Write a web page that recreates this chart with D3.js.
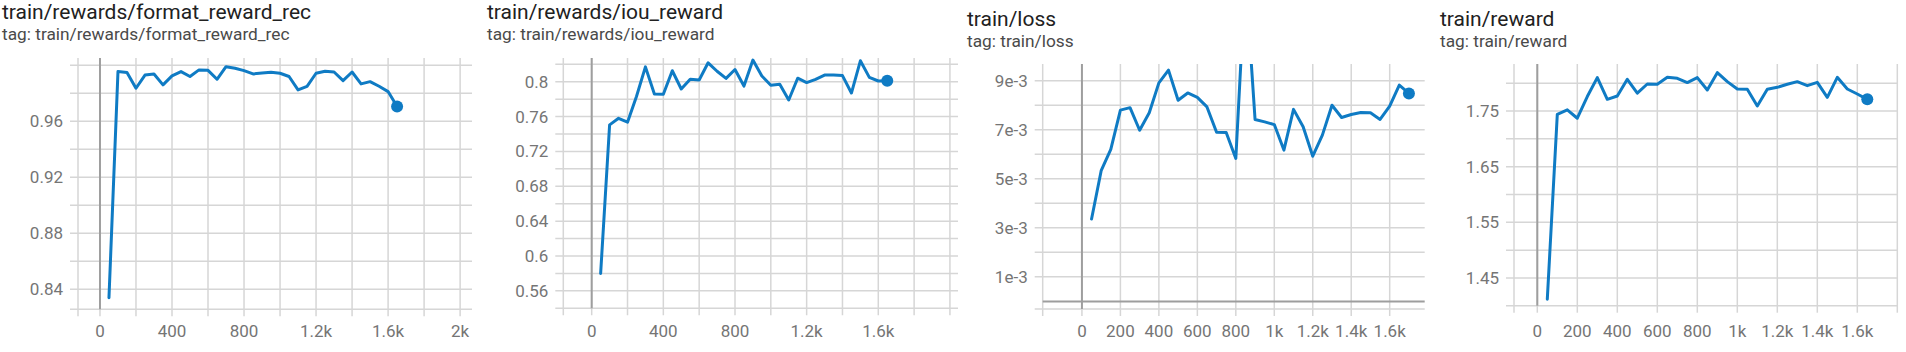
<!DOCTYPE html>
<html>
<head>
<meta charset="utf-8">
<script src="https://cdn.jsdelivr.net/npm/d3@7"></script>
<style>
  html, body { margin: 0; padding: 0; background: #fff; }
  svg { display: block; font-family: Roboto, "Noto Sans", sans-serif; }
</style>
</head>
<body>
<svg id="mySvg" width="1906" height="352"></svg>
<script>
// training steps (every 50 steps)
var steps = [50, 100, 150, 200, 250, 300, 350, 400, 450, 500, 550, 600, 650, 700, 750, 800,
  850, 900, 950, 1000, 1050, 1100, 1150, 1200, 1250, 1300, 1350, 1400, 1450, 1500, 1550, 1600, 1650];
var lossSteps = [50, 100, 150, 200, 250, 300, 350, 400, 450, 500, 550, 600, 650, 700, 750, 800,
  850, 900, 950, 1000, 1050, 1100, 1150, 1200, 1250, 1300, 1350, 1400, 1450, 1500, 1550, 1600, 1650, 1700];

var formatReward = [0.834, 0.9955, 0.9948, 0.9836, 0.993, 0.9938, 0.986, 0.9924, 0.9955, 0.992,
  0.9967, 0.9964, 0.990, 0.999, 0.9979, 0.9962, 0.9938, 0.9945, 0.995, 0.9943, 0.992, 0.9824,
  0.985, 0.9943, 0.9957, 0.9952, 0.989, 0.9952, 0.9867, 0.9883, 0.985, 0.9812, 0.9705];

var iouReward = [0.580, 0.7505, 0.758, 0.7535, 0.783, 0.817, 0.786, 0.7855, 0.8126, 0.7916,
  0.8027, 0.802, 0.8217, 0.812, 0.8038, 0.814, 0.795, 0.8248, 0.8065, 0.796, 0.797, 0.779,
  0.804, 0.799, 0.8027, 0.8076, 0.8076, 0.807, 0.787, 0.824, 0.805, 0.8008, 0.801];

var loss = [3.36e-3, 5.33e-3, 6.2e-3, 7.8e-3, 7.9e-3, 6.98e-3, 7.69e-3, 8.91e-3, 9.43e-3, 8.2e-3,
  8.5e-3, 8.32e-3, 7.93e-3, 6.9e-3, 6.89e-3, 5.83e-3, 13.3e-3, 7.42e-3, 7.32e-3, 7.21e-3,
  6.17e-3, 7.83e-3, 7.12e-3, 5.92e-3, 6.78e-3, 8.0e-3, 7.5e-3, 7.62e-3, 7.7e-3, 7.69e-3,
  7.42e-3, 7.96e-3, 8.82e-3, 8.48e-3];

var reward = [1.412, 1.744, 1.752, 1.737, 1.776, 1.810, 1.771, 1.777, 1.807, 1.782, 1.7985,
  1.798, 1.8105, 1.8087, 1.801, 1.810, 1.7877, 1.8189, 1.8027, 1.7895, 1.789, 1.759, 1.789,
  1.7925, 1.798, 1.8027, 1.7955, 1.8015, 1.7745, 1.8105, 1.7895, 1.7805, 1.771];

// grid lines and tick labels
var xGridA = [0, 200, 400, 600, 800, 1000, 1200, 1400, 1600, 1800, 2000];
var xLabelsA = [0, 400, 800, 1200, 1600, 2000];
var xLabelsB = [0, 400, 800, 1200, 1600];
var xGridC = [0, 200, 400, 600, 800, 1000, 1200, 1400, 1600];
var xLabelsC = [0, 200, 400, 600, 800, 1000, 1200, 1400, 1600];
var xGridD = [0, 200, 400, 600, 800, 1000, 1200, 1400, 1600, 1800];

var yGridFormat = [0.84, 0.86, 0.88, 0.90, 0.92, 0.94, 0.96, 0.98, 1.0];
var yLabelsFormat = [0.84, 0.88, 0.92, 0.96];
var yGridIou = [0.56, 0.58, 0.60, 0.62, 0.64, 0.66, 0.68, 0.70, 0.72, 0.74, 0.76, 0.78, 0.80, 0.82];
var yLabelsIou = [0.56, 0.6, 0.64, 0.68, 0.72, 0.76, 0.8];
var yGridLoss = [1e-3, 2e-3, 3e-3, 4e-3, 5e-3, 6e-3, 7e-3, 8e-3, 9e-3];
var yLabelsLoss = [1e-3, 3e-3, 5e-3, 7e-3, 9e-3];
var yGridReward = [1.45, 1.5, 1.55, 1.6, 1.65, 1.7, 1.75, 1.8];
var yLabelsReward = [1.45, 1.55, 1.65, 1.75];

var fmtX = v => v >= 1000 ? (v / 1000) + "k" : String(v);

var panels = [
  { title: "train/rewards/format_reward_rec", x: steps, y: formatReward,
    tx: 2, ty: 19, left: 78, right: 472, top: 58, bottom: 309.3,
    xDomain: [-122, 2066], yDomain: [0.8257, 1.0052],
    xGrid: xGridA, xLabels: xLabelsA, yGrid: yGridFormat, yLabels: yLabelsFormat,
    fmtY: v => String(+v.toFixed(2)) },
  { title: "train/rewards/iou_reward", x: steps, y: iouReward,
    tx: 487, ty: 19, left: 563.3, right: 958, top: 58, bottom: 308.3,
    xDomain: [-158.5, 2045], yDomain: [0.54, 0.8272],
    xGrid: xGridA, xLabels: xLabelsB, yGrid: yGridIou, yLabels: yLabelsIou,
    fmtY: v => String(+v.toFixed(2)) },
  { title: "train/loss", x: lossSteps, y: loss,
    tx: 967, ty: 26, left: 1042.7, right: 1424.7, top: 64, bottom: 309,
    xDomain: [-204, 1782], yDomain: [-0.31e-3, 9.68e-3], zeroY: true,
    xGrid: xGridC, xLabels: xLabelsC, yGrid: yGridLoss, yLabels: yLabelsLoss,
    fmtY: v => Math.round(v * 1000) + "e-3" },
  { title: "train/reward", x: steps, y: reward,
    tx: 1440, ty: 26, left: 1514, right: 1898, top: 64, bottom: 305.7,
    xDomain: [-116.5, 1803.5], yDomain: [1.4003, 1.8344],
    xGrid: xGridD, xLabels: xLabelsC, yGrid: yGridReward, yLabels: yLabelsReward,
    fmtY: v => String(+v.toFixed(2)) }
];

var svg = d3.select("#mySvg");
var gridColor = "#d6d6d6";
var lineColor = "#0f7bc4";

panels.forEach((p, i) => {
  var g = svg.append("g");
  var xScale = d3.scaleLinear().domain(p.xDomain).range([p.left, p.right]);
  var yScale = d3.scaleLinear().domain(p.yDomain).range([p.bottom, p.top]);

  // titles
  g.append("text").attr("x", p.tx).attr("y", p.ty)
    .attr("font-size", 21).attr("fill", "#212121").text(p.title);
  g.append("text").attr("x", p.tx).attr("y", p.ty + 20.5)
    .attr("font-size", 17.3).attr("fill", "#4a4a4a").text("tag: " + p.title);

  // horizontal grid
  g.selectAll(".hg").data(p.yGrid).join("line")
    .attr("x1", p.left - 8).attr("x2", p.right)
    .attr("y1", d => yScale(d)).attr("y2", d => yScale(d))
    .attr("stroke", gridColor).attr("stroke-width", 1.5);
  // bottom border
  g.append("line").attr("x1", p.left - 8).attr("x2", p.right)
    .attr("y1", p.bottom).attr("y2", p.bottom)
    .attr("stroke", gridColor).attr("stroke-width", 1.5);
  // vertical grid
  g.selectAll(".vg").data(p.xGrid).join("line")
    .attr("x1", d => xScale(d)).attr("x2", d => xScale(d))
    .attr("y1", p.top).attr("y2", p.bottom + 7)
    .attr("stroke", gridColor).attr("stroke-width", 1.5);
  // left border
  g.append("line").attr("x1", p.left).attr("x2", p.left)
    .attr("y1", p.top).attr("y2", p.bottom + 7)
    .attr("stroke", gridColor).attr("stroke-width", 1.5);

  // zero axes
  g.append("line").attr("x1", xScale(0)).attr("x2", xScale(0))
    .attr("y1", p.top).attr("y2", p.bottom)
    .attr("stroke", "#9e9e9e").attr("stroke-width", 2);
  if (p.zeroY) {
    g.append("line").attr("x1", p.left).attr("x2", p.right)
      .attr("y1", yScale(0)).attr("y2", yScale(0))
      .attr("stroke", "#9e9e9e").attr("stroke-width", 2);
  }

  // tick labels
  g.selectAll(".yl").data(p.yLabels).join("text")
    .attr("x", p.left - 15).attr("y", d => yScale(d)).attr("dy", "0.35em")
    .attr("text-anchor", "end").attr("font-size", 17).attr("fill", "#757575")
    .text(p.fmtY);
  g.selectAll(".xl").data(p.xLabels).join("text")
    .attr("x", d => xScale(d)).attr("y", 331).attr("dy", "0.35em")
    .attr("text-anchor", "middle").attr("font-size", 17).attr("fill", "#757575")
    .text(fmtX);

  // series line, clipped to the plot area
  var clipId = "clip" + i;
  svg.append("clipPath").attr("id", clipId).append("rect")
    .attr("x", p.left).attr("y", p.top)
    .attr("width", p.right - p.left).attr("height", p.bottom - p.top);
  var I = d3.range(p.x.length);
  var line = d3.line().x(k => xScale(p.x[k])).y(k => yScale(p.y[k]));
  g.append("path").attr("clip-path", `url(#${clipId})`)
    .attr("fill", "none").attr("stroke", lineColor).attr("stroke-width", 3)
    .attr("stroke-linejoin", "round").attr("stroke-linecap", "round")
    .attr("d", line(I));
  var last = I[I.length - 1];
  g.append("circle").attr("cx", xScale(p.x[last])).attr("cy", yScale(p.y[last]))
    .attr("r", 6).attr("fill", lineColor);
});
</script>
</body>
</html>
